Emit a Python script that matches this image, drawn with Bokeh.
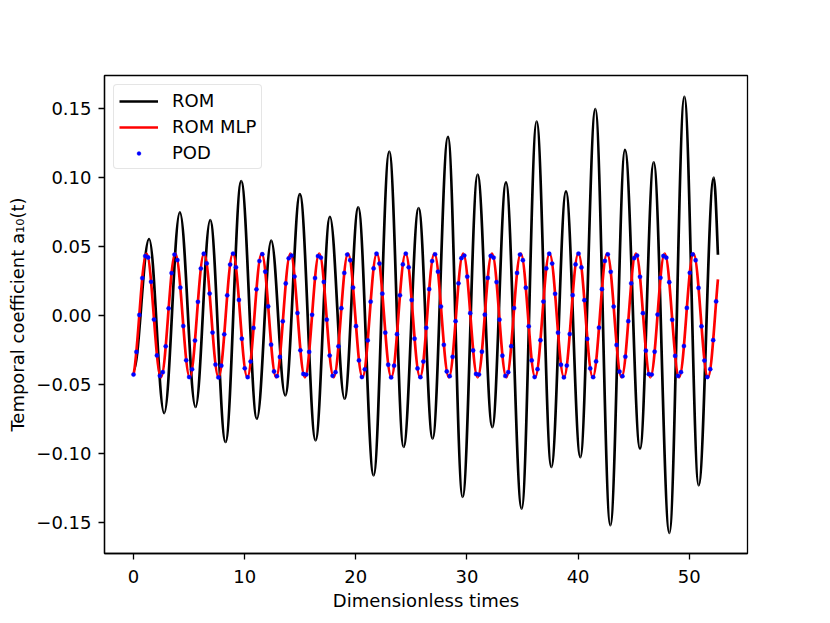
import numpy as np
from bokeh.plotting import figure
from bokeh.models import Range1d, FixedTicker, Legend, LegendItem, ColumnDataSource
from bokeh.embed import file_html
from bokeh.resources import INLINE

# ---------------- data ----------------
# ROM (black): start point, alternating peaks / troughs, end point
rom_t = [0.00, 1.40, 2.76, 4.17, 5.58, 6.90, 8.28, 9.69, 11.10, 12.39, 13.65,
         14.97, 16.38, 17.67, 18.99, 20.22, 21.60, 23.01, 24.30, 25.65, 26.91,
         28.29, 29.61, 30.96, 32.28, 33.51, 34.92, 36.27, 37.59, 38.91, 40.20,
         41.55, 42.90, 44.22, 45.57, 46.80, 48.21, 49.56, 50.85, 52.20, 52.58]
rom_a = [-0.0400, 0.0554, -0.0706, 0.0747, -0.0662, 0.0691, -0.0915, 0.0972,
         -0.0747, 0.0542, -0.0578, 0.0879, -0.0903, 0.0715, -0.0602, 0.0783,
         -0.1156, 0.1187, -0.0951, 0.0778, -0.0891, 0.1293, -0.1313, 0.1019,
         -0.0807, 0.0963, -0.1397, 0.1404, -0.1096, 0.0898, -0.1024, 0.1493,
         -0.1517, 0.1199, -0.0963, 0.1108, -0.1573, 0.1582, -0.1228, 0.0999, 0.0440]
rom_start_slope = 0.0
rom_end_slope = -0.20

# ROM MLP (red): start point, alternating peaks / troughs, end point
mlp_t = [0.00, 1.17, 2.47, 3.76, 5.06, 6.35, 7.65, 8.94, 10.24, 11.53, 12.83,
         14.12, 15.42, 16.71, 18.01, 19.30, 20.60, 21.89, 23.19, 24.48, 25.78,
         27.07, 28.37, 29.66, 30.96, 32.25, 33.55, 34.84, 36.14, 37.43, 38.73,
         40.02, 41.32, 42.61, 43.91, 45.20, 46.50, 47.79, 49.09, 50.38, 51.68, 52.58]
mlp_a = [-0.0428,
         0.0449, -0.0447, 0.0449, -0.0447, 0.0449, -0.0447, 0.0449, -0.0447,
         0.0449, -0.0447, 0.0449, -0.0447, 0.0449, -0.0447, 0.0449, -0.0447,
         0.0449, -0.0447, 0.0449, -0.0447, 0.0449, -0.0447, 0.0449, -0.0447,
         0.0449, -0.0447, 0.0449, -0.0447, 0.0449, -0.0447, 0.0449, -0.0447,
         0.0449, -0.0447, 0.0449, -0.0447, 0.0449, -0.0447, 0.0449, -0.0447,
         0.0262]
mlp_start_slope = 0.0325
mlp_end_slope = 0.089

# POD (blue dots), snapshot spacing
pod_dt = 0.2634
pod_a = [
    -0.0427, -0.0263, 0.0004, 0.0271, 0.0430, 0.0420, 0.0244, -0.0029, -0.0289, -0.0436,
    -0.0410, -0.0223, 0.0052, 0.0307, 0.0441, 0.0401, 0.0202, -0.0076, -0.0324, -0.0445,
    -0.0389, -0.0181, 0.0099, 0.0340, 0.0447, 0.0377, 0.0159, -0.0123, -0.0355, -0.0448,
    -0.0363, -0.0136, 0.0146, 0.0369, 0.0448, 0.0349, 0.0113, -0.0168, -0.0382, -0.0446,
    -0.0333, -0.0090, 0.0190, 0.0394, 0.0444, 0.0317, 0.0066, -0.0211, -0.0405, -0.0439,
    -0.0300, -0.0042, 0.0232, 0.0414, 0.0434, 0.0282, 0.0018, -0.0252, -0.0423, -0.0427,
    -0.0263, 0.0005, 0.0271, 0.0430, 0.0419, 0.0243, -0.0030, -0.0290, -0.0436, -0.0410,
    -0.0223, 0.0053, 0.0308, 0.0441, 0.0400, 0.0202, -0.0077, -0.0325, -0.0445, -0.0389,
    -0.0180, 0.0100, 0.0341, 0.0447, 0.0376, 0.0158, -0.0124, -0.0356, -0.0448, -0.0363,
    -0.0135, 0.0146, 0.0370, 0.0448, 0.0349, 0.0112, -0.0168, -0.0383, -0.0446, -0.0333,
    -0.0089, 0.0191, 0.0394, 0.0443, 0.0317, 0.0065, -0.0212, -0.0405, -0.0439, -0.0299,
    -0.0041, 0.0233, 0.0415, 0.0434, 0.0281, 0.0017, -0.0253, -0.0423, -0.0427, -0.0262,
    0.0006, 0.0272, 0.0431, 0.0419, 0.0242, -0.0030, -0.0291, -0.0437, -0.0410, -0.0222,
    0.0054, 0.0308, 0.0441, 0.0400, 0.0201, -0.0078, -0.0325, -0.0445, -0.0388, -0.0179,
    0.0101, 0.0341, 0.0447, 0.0376, 0.0157, -0.0124, -0.0356, -0.0448, -0.0362, -0.0134,
    0.0147, 0.0370, 0.0448, 0.0348, 0.0111, -0.0169, -0.0383, -0.0446, -0.0332, -0.0088,
    0.0191, 0.0395, 0.0443, 0.0316, 0.0065, -0.0213, -0.0406, -0.0439, -0.0298, -0.0041,
    0.0233, 0.0415, 0.0434, 0.0280, 0.0017, -0.0254, -0.0424, -0.0427, -0.0262, 0.0007,
    0.0273, 0.0431, 0.0419, 0.0241, -0.0031, -0.0292, -0.0437, -0.0410, -0.0221, 0.0055,
    0.0309, 0.0442, 0.0400, 0.0200, -0.0078, -0.0326, -0.0445, -0.0388, -0.0178, 0.0102,
]
pod_t = [round(i * pod_dt, 4) for i in range(len(pod_a))]

x_ticks = [0, 10, 20, 30, 40, 50]
y_ticks = [-0.15, -0.10, -0.05, 0.0, 0.05, 0.10, 0.15]
y_tick_labels = ["\u22120.15", "\u22120.10", "\u22120.05", "0.00", "0.05", "0.10", "0.15"]

series_labels = ["ROM", "ROM MLP", "POD"]
x_label = "Dimensionless times"
y_label = "Temporal coefficient a\u2081\u2080(t)"


def bezier_source(t, a, m_start, m_end):
    t = np.asarray(t, float)
    a = np.asarray(a, float)
    n = len(t) - 1
    slope = np.zeros(len(t))
    slope[0] = m_start
    slope[-1] = m_end
    k0 = np.full(n, 0.36)
    k1 = np.full(n, 0.36)
    if m_start != 0:
        k0[0] = 1.0 / 3.0
    if m_end != 0:
        k1[-1] = 1.0 / 3.0
    dx = t[1:] - t[:-1]
    return ColumnDataSource(dict(
        x0=t[:-1], y0=a[:-1], x1=t[1:], y1=a[1:],
        cx0=t[:-1] + k0 * dx, cy0=a[:-1] + slope[:-1] * k0 * dx,
        cx1=t[1:] - k1 * dx, cy1=a[1:] - slope[1:] * k1 * dx,
    ))


FONT = "DejaVu Sans"

p = figure(width=830, height=623,
           x_range=Range1d(-2.61, 55.24), y_range=Range1d(-0.1722, 0.1737),
           output_backend="svg", toolbar_location=None,
           min_border_left=104, min_border_right=83,
           min_border_top=75, min_border_bottom=70)
p.background_fill_color = "white"
p.border_fill_color = "white"
p.grid.visible = False
p.outline_line_color = "black"
p.outline_line_width = 1.3

lw = 2.7
rom_src = bezier_source(rom_t, rom_a, rom_start_slope, rom_end_slope)
mlp_src = bezier_source(mlp_t, mlp_a, mlp_start_slope, mlp_end_slope)
p.bezier(x0="x0", y0="y0", x1="x1", y1="y1", cx0="cx0", cy0="cy0",
         cx1="cx1", cy1="cy1", source=rom_src, line_color="black", line_width=lw)
p.bezier(x0="x0", y0="y0", x1="x1", y1="y1", cx0="cx0", cy0="cy0",
         cx1="cx1", cy1="cy1", source=mlp_src, line_color="#ff0000", line_width=lw)
pod_r = p.scatter(pod_t, pod_a, size=4.3, fill_color="#0000ff",
                  line_color="#0000ff", line_width=0.3)

# legend glyph renderers (single point each: the line itself draws nothing)
rom_leg = p.line(x=rom_t[:1], y=rom_a[:1], line_color="black", line_width=lw)
mlp_leg = p.line(x=mlp_t[:1], y=mlp_a[:1], line_color="#ff0000", line_width=lw)

legend = Legend(items=[LegendItem(label=series_labels[0], renderers=[rom_leg]),
                       LegendItem(label=series_labels[1], renderers=[mlp_leg]),
                       LegendItem(label=series_labels[2], renderers=[pod_r])],
                location="top_left")
legend.margin = 9
legend.padding = 5
legend.spacing = 5
legend.glyph_width = 39
legend.glyph_height = 10
legend.label_height = 21
legend.label_standoff = 14
legend.label_text_font = FONT
legend.label_text_font_size = "18px"
legend.label_text_color = "black"
legend.border_line_color = "#cccccc"
legend.border_line_width = 1.2
legend.background_fill_color = "white"
legend.background_fill_alpha = 0.8
if "border_radius" in Legend.properties():
    legend.border_radius = 4
p.add_layout(legend)

p.xaxis.ticker = FixedTicker(ticks=x_ticks)
p.yaxis.ticker = FixedTicker(ticks=y_ticks)
p.yaxis.major_label_overrides = {v: s for v, s in zip(y_ticks, y_tick_labels)}

for ax in (p.xaxis[0], p.yaxis[0]):
    ax.axis_line_color = "black"
    ax.axis_line_width = 1.3
    ax.major_tick_line_color = "black"
    ax.major_tick_line_width = 1.3
    ax.major_tick_out = 6
    ax.major_tick_in = 0
    ax.minor_tick_line_color = None
    ax.major_label_text_font = FONT
    ax.major_label_text_font_size = "18px"
    ax.major_label_text_color = "black"
    ax.axis_label_text_font = FONT
    ax.axis_label_text_font_size = "18px"
    ax.axis_label_text_font_style = "normal"
    ax.axis_label_text_color = "black"

p.xaxis.axis_label = x_label
p.yaxis.axis_label = y_label
p.xaxis.major_label_standoff = 10
p.xaxis.axis_label_standoff = 4
p.yaxis.axis_label_standoff = 5
p.yaxis.major_label_standoff = 7

open("out.html", "w").write(file_html(p, INLINE))
